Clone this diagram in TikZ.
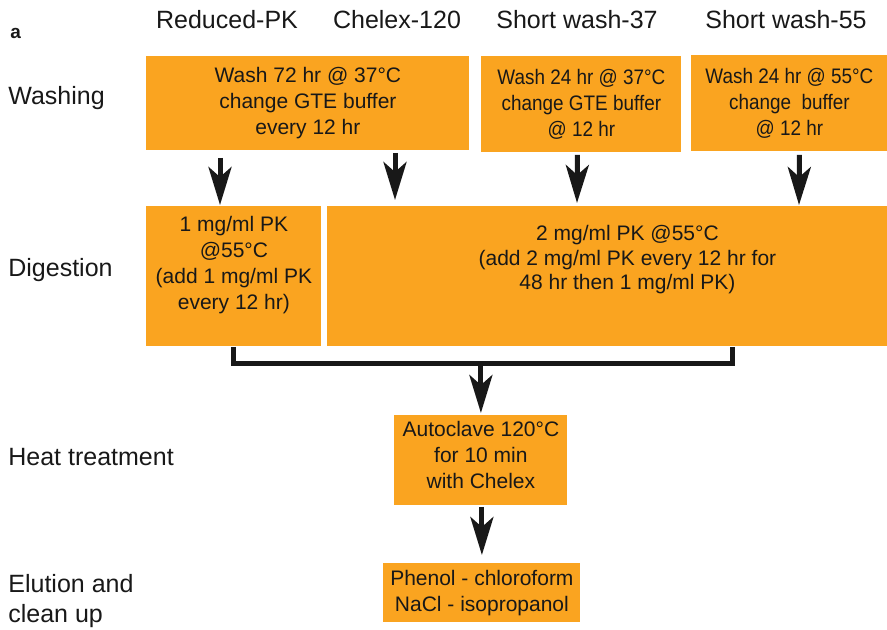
\documentclass[tikz,border=0pt]{standalone}
\usepackage{fontspec}
\setmainfont{Liberation Sans}
\newfontfamily\narrowsans[FakeStretch=0.9]{Liberation Sans}
\usetikzlibrary{arrows.meta}

\definecolor{stagefill}{RGB}{250,164,32}
\definecolor{inkgray}{RGB}{24,24,24}

\begin{document}
\begin{tikzpicture}[x=0.5pt,y=-0.5pt]

\tikzstyle{stage}=[rectangle,fill={stagefill},inner sep={0pt},align={center},text={inkgray},font={\fontsize{10.5}{13}\selectfont}]
\tikzstyle{rowlabel}=[inner sep={0pt},align={left},text={inkgray},font={\fontsize{12.5}{15}\selectfont}]
\tikzstyle{collabel}=[inner sep={0pt},anchor={base},text={inkgray},font={\fontsize{12.5}{15}\selectfont}]
\tikzstyle{flow}=[arrows={-Stealth[length=19pt,width=11.5pt,inset=5pt]},line width={2.5pt},draw={inkgray}]

% canvas

\clip (0,0) rectangle (887,629) ;

% headers: panel letter and columns

\node at (10,38) [anchor={base west},inner sep={0pt},text={inkgray},font={\fontsize{9.5}{11}\selectfont\bfseries}] (P) {a} ;

\node at (227,28) [collabel] (H1) {Reduced-PK} ;
\node at (397,28) [collabel] (H2) {Chelex-120} ;
\node at (577,28) [collabel] (H3) {Short wash-37} ;
\node at (786,28) [collabel] (H4) {Short wash-55} ;

% headers: rows

\node at (8,104) [rowlabel,anchor={base west}] (R1) {Washing} ;
\node at (8,276) [rowlabel,anchor={base west}] (R2) {Digestion} ;
\node at (8,465) [rowlabel,anchor={base west}] (R3) {Heat treatment} ;
\node at (8,601) [rowlabel,anchor={west}] (R4) {Elution and\\clean up} ;

% stages: washing

\node at (146,56) [stage,anchor={north west},minimum width={161.5pt},minimum height={47pt}] (W1) {Wash 72 hr @ 37°C\\ change GTE buffer\\every 12 hr} ;
\node at (481,56) [stage,anchor={north west},minimum width={100pt},minimum height={48pt},font={\narrowsans\fontsize{10.5}{13}\selectfont}] (W2) {Wash 24 hr @ 37°C\\ change GTE buffer\\@ 12 hr} ;
\node at (691,55) [stage,anchor={north west},minimum width={98pt},minimum height={48pt},font={\narrowsans\fontsize{10.5}{13}\selectfont}] (W3) {Wash 24 hr @ 55°C\\ change~ buffer\\@ 12 hr} ;

% stages: digestion

\node at (146,206) [stage,anchor={north west},minimum width={87.5pt},minimum height={70pt},text depth={13.5pt}] (D1) {1 mg/ml PK\\@55°C\\(add 1 mg/ml PK\\every 12 hr)} ;
\node at (327,206) [stage,anchor={north west},minimum width={300pt},minimum height={70pt},text depth={19pt},font={\fontsize{10.5}{12.2}\selectfont}] (D2) {2 mg/ml PK @55°C\\(add 2 mg/ml PK every 12 hr for\\48 hr then 1 mg/ml PK)} ;

% stages: heat and elution

\node at (394,415) [stage,anchor={north west},minimum width={86.5pt},minimum height={45pt},text depth={6pt}] (H) {Autoclave 120°C\\for 10 min\\with Chelex} ;
\node at (383,563) [stage,anchor={north west},minimum width={98.5pt},minimum height={29.5pt}] (E) {Phenol - chloroform\\NaCl - isopropanol} ;

% connections: washing to digestion

\draw [flow] ([shift={(74,7)}] W1.south west) -- ([shift={(74,-1)}] D1.north west) ;
\draw [flow] ([shift={(249,2)}] W1.south west) -- ([shift={(68,-6)}] D2.north west) ;
\draw [flow] ([shift={(-4,2)}] W2.south) -- ([shift={(250,-3)}] D2.north west) ;
\draw [flow] ([shift={(10,3)}] W3.south) -- ([shift={(472,-1)}] D2.north west) ;

% connections: merge and down

\draw [line width={2.5pt},draw={inkgray},line join={miter}] ([shift={(-0.5,0)}] D1.south) -- ++(0,17) coordinate (M) -| ([shift={(105,0)}] D2.south) ;
\draw [flow] ([shift={(0,-2)}] H.north |- M) -- ([shift={(0,-2)}] H.north) ;
\draw [flow] ([shift={(1,1)}] H.south) -- ([shift={(0,-8)}] E.north) ;

\end{tikzpicture}
\end{document}
